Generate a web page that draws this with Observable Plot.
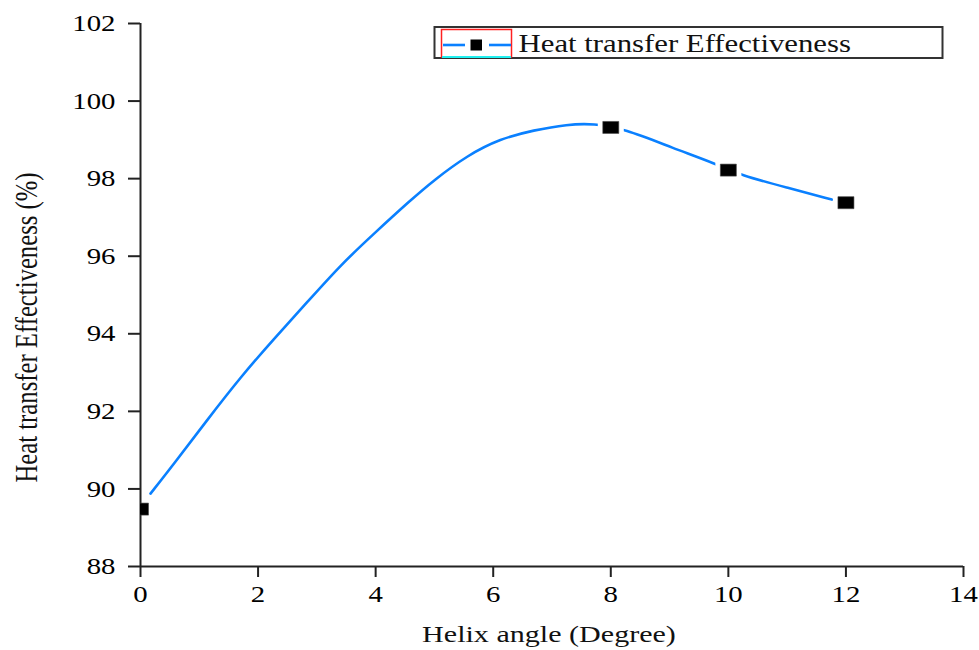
<!DOCTYPE html>
<html><head><meta charset="utf-8">
<script src="https://cdn.jsdelivr.net/npm/d3@7"></script>
<script src="https://cdn.jsdelivr.net/npm/@observablehq/plot@0.6"></script>
<style>
body{margin:0;background:#fff;}
</style>
</head><body><div id="chart"></div>
<script>
// ---- data ----
const markerAngle = [0, 8, 10, 12];
const markerEff = [89.48, 99.32, 98.22, 97.38];
const curveAngle = [0.17, 0.57, 1.13, 1.70, 2.27, 2.84, 3.40, 3.97, 4.59, 4.99, 5.56, 6.12, 6.69, 7.26, 7.71, 8.22, 9.07, 9.78, 10.20, 11.05, 11.76];
const curveEff   = [89.88, 90.65, 91.77, 92.88, 93.87, 94.82, 95.77, 96.58, 97.44, 97.96, 98.60, 99.03, 99.25, 99.40, 99.42, 99.29, 98.78, 98.39, 98.09, 97.75, 97.46];
const xTicks = [0, 2, 4, 6, 8, 10, 12, 14];
const yTicks = [88, 90, 92, 94, 96, 98, 100, 102];
const xTitle = "Helix angle (Degree)";
const yTitle = "Heat transfer Effectiveness (%)";
const seriesName = "Heat transfer Effectiveness";

const markers = markerAngle.map((x, i) => ({x, y: markerEff[i]}));
const curve = curveAngle.map((x, i) => ({x, y: curveEff[i]}));

const rectSymbol = (w, h) => ({
  draw(ctx) {
    ctx.moveTo(-w / 2, -h / 2);
    ctx.lineTo(w / 2, -h / 2);
    ctx.lineTo(w / 2, h / 2);
    ctx.lineTo(-w / 2, h / 2);
    ctx.closePath();
  }
});

const blue = "#0a80ff";
const serif = "'Liberation Serif', 'Times New Roman', serif";

const svg = Plot.plot({
  width: 979,
  height: 650,
  marginLeft: 140,
  marginRight: 16,
  marginTop: 23,
  marginBottom: 84,
  style: {fontFamily: serif, fontSize: "24px", color: "#000", background: "#fff", overflow: "visible"},
  x: {domain: [0, 14]},
  y: {domain: [88, 102]},
  marks: [
    Plot.axisX({ticks: xTicks, tickSize: 11, tickPadding: 7, label: null, strokeWidth: 2, stroke: "#222"}),
    Plot.axisY({ticks: yTicks, tickSize: 12, tickPadding: 13, label: null, strokeWidth: 2, stroke: "#222"}),
    Plot.ruleY([88], {stroke: "#222", strokeWidth: 2}),
    Plot.ruleX([0], {stroke: "#222", strokeWidth: 2}),
    Plot.line(curve, {x: "x", y: "y", stroke: blue, strokeWidth: 2.6, curve: "basis"}),
    Plot.dot(markers.filter(d => d.x > 0), {x: "x", y: "y", symbol: rectSymbol(26, 17), fill: "#fff", stroke: null}),
    Plot.dot(markers, {x: "x", y: "y", symbol: rectSymbol(16, 12), fill: "#000", stroke: "#444", strokeWidth: 0.6, clip: true})
  ]
});

document.getElementById("chart").appendChild(svg);

// horizontal stretch of text, like the reference bitmap
function stretchX(t, k) {
  const x = parseFloat(t.getAttribute("x")) || 0;
  const tr = t.getAttribute("transform") || "";
  t.setAttribute("transform", `${tr} translate(${x},0) scale(${k},1) translate(${-x},0)`);
}
svg.querySelectorAll('g[aria-label$="tick label"] text').forEach(t => stretchX(t, 1.2));

const s = d3.select(svg);

// axis titles
const xt = s.append("text")
  .attr("x", 549).attr("y", 642)
  .attr("text-anchor", "middle")
  .attr("font-family", serif).attr("font-size", 23.5).attr("fill", "#111")
  .text(xTitle);
stretchX(xt.node(), 1.28);

s.append("text")
  .attr("transform", "translate(37,327.5) rotate(-90) scale(1,1.28)")
  .attr("text-anchor", "middle")
  .attr("font-family", serif).attr("font-size", 24.7).attr("fill", "#111")
  .text(yTitle);

// legend
const lg = s.append("g");
lg.append("rect").attr("x", 434.5).attr("y", 27).attr("width", 508).attr("height", 31)
  .attr("fill", "#fff").attr("stroke", "#333").attr("stroke-width", 2);
lg.append("rect").attr("x", 441.5).attr("y", 29.5).attr("width", 70).attr("height", 27.5)
  .attr("fill", "none").attr("stroke", "#ff2020").attr("stroke-width", 1.5);
lg.append("line").attr("x1", 442).attr("x2", 511).attr("y1", 57).attr("y2", 57)
  .attr("stroke", "#20f0f0").attr("stroke-width", 2);
lg.append("line").attr("x1", 443).attr("x2", 465).attr("y1", 45).attr("y2", 45)
  .attr("stroke", blue).attr("stroke-width", 2.6);
lg.append("line").attr("x1", 489).attr("x2", 511).attr("y1", 45).attr("y2", 45)
  .attr("stroke", blue).attr("stroke-width", 2.6);
lg.append("rect").attr("x", 470.5).attr("y", 39.5).attr("width", 11.5).attr("height", 11)
  .attr("fill", "#000");
const lt = lg.append("text").attr("x", 518.6).attr("y", 52.4)
  .attr("text-anchor", "start")
  .attr("font-family", serif).attr("font-size", 25).attr("fill", "#111")
  .text(seriesName);
stretchX(lt.node(), 1.23);
</script>
</body></html>
